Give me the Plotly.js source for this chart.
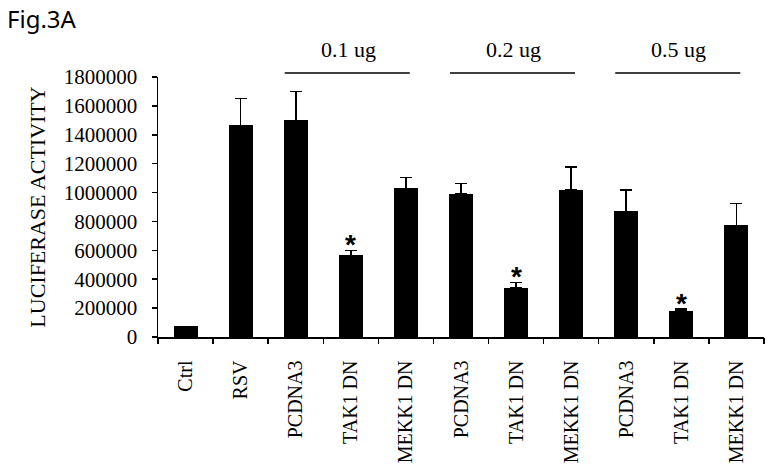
<!DOCTYPE html>
<html>
<head>
<meta charset="utf-8">
<script src="https://cdn.plot.ly/plotly-3.0.1.min.js"></script>
<style>html,body{margin:0;padding:0;background:#fff;}#chart{width:774px;height:468px;}</style>
</head>
<body>
<div id="chart"></div>
<script>
// ---- data ----
const labels = ["Ctrl","RSV","PCDNA3","TAK1 DN","MEKK1 DN","PCDNA3","TAK1 DN","MEKK1 DN","PCDNA3","TAK1 DN","MEKK1 DN"];
const values = [73000,1465000,1500000,565000,1029000,988000,339000,1020000,870000,180000,773000];
const errPlus = [0,187000,201000,35000,76000,74000,39000,155000,148000,14000,150000];
const significant = [false,false,false,true,false,false,true,false,false,true,false];
const groupNames = ["0.1 ug","0.2 ug","0.5 ug"];
const groupMembers = [[2,3,4],[5,6,7],[8,9,10]];
const yTicks = [0,200000,400000,600000,800000,1000000,1200000,1400000,1600000,1800000];

// ---- derived ----
const xs = labels.map((_, i) => i);
const boundaries = labels.slice(0, -1).map((_, i) => i + 0.5);

const serif = "Liberation Serif";

const bars = {
  type: "bar",
  x: xs,
  y: values,
  width: 0.435,
  marker: {color: "#000000", line: {width: 0}},
  error_y: {type: "data", symmetric: false, array: errPlus, arrayminus: errPlus.map(() => 0),
            color: "#000000", thickness: 1.6, width: 6},
  hoverinfo: "skip",
  showlegend: false
};

const tickHelper = {
  type: "scatter", x: [-0.5, labels.length - 0.5], y: [0, 0], xaxis: "x2", yaxis: "y",
  mode: "markers", marker: {opacity: 0}, hoverinfo: "skip", showlegend: false
};

const annotations = [];
xs.forEach(i => {
  if (significant[i]) {
    annotations.push({
      x: i, y: values[i] + errPlus[i], xref: "x", yref: "y",
      text: "<b>*</b>", showarrow: false, yanchor: "bottom", yshift: -12,
      font: {family: "Liberation Sans", size: 28, color: "#000"}
    });
  }
});

const shapes = [];
groupNames.forEach((g, k) => {
  const m = groupMembers[k];
  const c = (m[0] + m[m.length - 1]) / 2;
  shapes.push({type: "line", xref: "x", yref: "paper", x0: c - 1.2, x1: c + 1.07, y0: 1.0154, y1: 1.0154,
               line: {color: "#000", width: 1.5}});
  annotations.push({x: c - 0.05, y: 1.105, xref: "x", yref: "paper", text: g, showarrow: false,
                    xanchor: "center", yanchor: "middle",
                    font: {family: serif, size: 22, color: "#000"}});
});

annotations.push({x: -0.2525, y: 1.226, xref: "paper", yref: "paper", text: "Fig.3A", showarrow: false,
                  xanchor: "left", yanchor: "middle",
                  font: {family: "Noto Sans", size: 24, color: "#000"}});

const layout = {
  width: 774, height: 468,
  margin: {l: 158, r: 10, t: 77, b: 131, pad: 0},
  paper_bgcolor: "#fff", plot_bgcolor: "#fff",
  bargap: 0,
  xaxis: {
    range: [-0.5, labels.length - 0.5],
    tickmode: "array", tickvals: xs, ticktext: labels, tickangle: -90,
    ticks: "outside", ticklen: 14, tickcolor: "rgba(0,0,0,0)",
    showline: true, linecolor: "#000", linewidth: 1.5,
    showgrid: false, zeroline: false,
    tickfont: {family: serif, size: 20, color: "#000"},
    fixedrange: true
  },
  xaxis2: {
    overlaying: "x", anchor: "y", side: "bottom",
    range: [-0.5, labels.length - 0.5],
    tickmode: "array", tickvals: [-0.5].concat(boundaries).concat([labels.length - 0.5]),
    showticklabels: false,
    ticks: "outside", ticklen: 6, tickcolor: "#000", tickwidth: 1.5,
    showline: false, showgrid: false, zeroline: false, fixedrange: true
  },
  yaxis: {
    range: [0, 1800000],
    tickmode: "array", tickvals: yTicks, tickformat: "d",
    ticks: "outside", ticklen: 5, tickcolor: "#000", tickwidth: 1.5,
    ticklabelstandoff: 10,
    showline: true, linecolor: "#000", linewidth: 1.5,
    showgrid: false, zeroline: false,
    tickfont: {family: serif, size: 21, color: "#000"},
    title: {text: "LUCIFERASE ACTIVITY", font: {family: serif, size: 22, color: "#000"}, standoff: 12},
    fixedrange: true
  },
  shapes: shapes,
  annotations: annotations,
  showlegend: false
};

Plotly.newPlot("chart", [bars, tickHelper], layout, {displayModeBar: false, staticPlot: true});
</script>
</body>
</html>
